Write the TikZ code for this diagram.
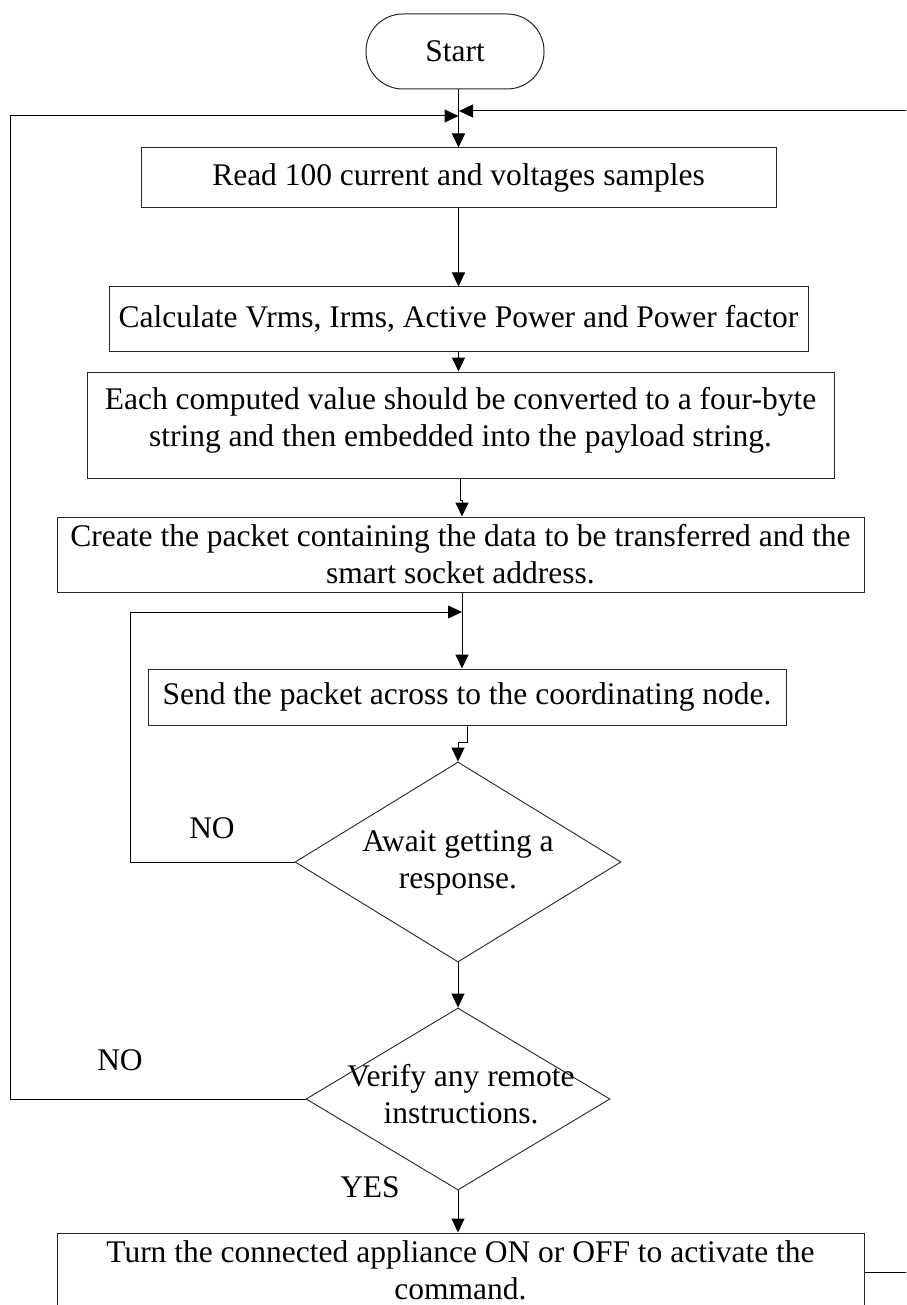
\documentclass[tikz,border=0pt]{standalone}
\usepackage{fontspec}
\setmainfont{Liberation Serif}
\usetikzlibrary{arrows.meta,shapes.geometric}
\begin{document}
\begin{tikzpicture}[x=1pt,y=-1pt,
  every node/.style={font=\fontsize{31.5}{37}\selectfont},
  flowbox/.style={draw=black!85,line width=1pt,rectangle,inner sep=0pt,align=center},
  terminal/.style={draw=black!85,line width=1pt,rectangle,rounded corners=37pt,inner sep=0pt,minimum width=178pt,minimum height=75pt},
  decision/.style={draw=black!85,line width=0.9pt,diamond,inner sep=0pt},
  arr/.style={draw=black,line width=1pt,-{Triangle[length=14pt,width=13pt]}},
  plain/.style={draw=black,line width=1pt}]
\useasboundingbox (0,0) rectangle (906,1305);
\clip (0,0) rectangle (906,1305);
\fill[white] (0,0) rectangle (906,1305);

% process steps
\node[terminal] (start) at (455,51.5) {Start};
\node[flowbox,minimum width=635pt,minimum height=60pt] (read) at (458.5,178) {Read 100 current and voltages samples};
\node[flowbox,minimum width=699pt,minimum height=64pt] (calc) at (458.5,319) {Calculate Vrms, Irms, Active Power and Power factor};
\node[flowbox,minimum width=747pt,minimum height=106pt] (conv) at (460.5,425) {};
\node[align=center] (convtxt) at (460.5,420) {Each computed value should be converted to a four-byte\\string and then embedded into the payload string.};
\node[flowbox,minimum width=807pt,minimum height=75pt] (pkt) at (460.5,554.5) {Create the packet containing the data to be transferred and the\\smart socket address.};
\node[flowbox,minimum width=638pt,minimum height=56pt] (send) at (467,697) {Send the packet across to the coordinating node.};
\node[decision,minimum width=326pt,minimum height=200pt] (await) at (458,862) {};
\node[align=center] (awaittxt) at (458,863) {Await getting a\\response.};
\node[decision,minimum width=304pt,minimum height=182pt] (verify) at (458,1099) {};
\node[align=center] (verifytxt) at (461,1094) {Verify any remote\\instructions.};
\node[flowbox,minimum width=807pt,minimum height=78pt] (turn) at (460.5,1272) {};
\node[align=center] (turntxt) at (460.5,1270) {Turn the connected appliance ON or OFF to activate the\\command.};

% branch labels
\node (no1) at (212,828) {NO};
\node (no2) at (120,1060) {NO};
\node (yes) at (370,1187) {YES};

% junction points
\coordinate (mL) at (458.5,116);
\coordinate (mR) at (459,111);
\coordinate (jn) at (462,612);

% main flow
\draw[arr] (start.south -| mL) -- (read.north -| mL);
\draw[arr] (read.south) -- (calc.north);
\draw[arr] (calc.south) -- (calc.south |- conv.north);
\draw[arr] (conv.south) -- ++(0,22) -| (pkt.north -| jn);
\draw[arr] (pkt.south -| jn) -- (send.north -| jn);
\draw[arr] (send.south) -- ++(0,17) -| (await.north);
\draw[arr] (await.south) -- (verify.north);
\draw[arr] (verify.south) -- (verify.south |- turn.north);

% loops back
\draw[arr] (await.west) -- (130,862) -- (130,612) -- (jn);
\draw[arr] (verify.west) -- (10,1099) -- (10,116) -- (mL);
\draw[arr] (turn.east) -- (930,1272) -- (930,111) -- (mR);
\end{tikzpicture}
\end{document}
